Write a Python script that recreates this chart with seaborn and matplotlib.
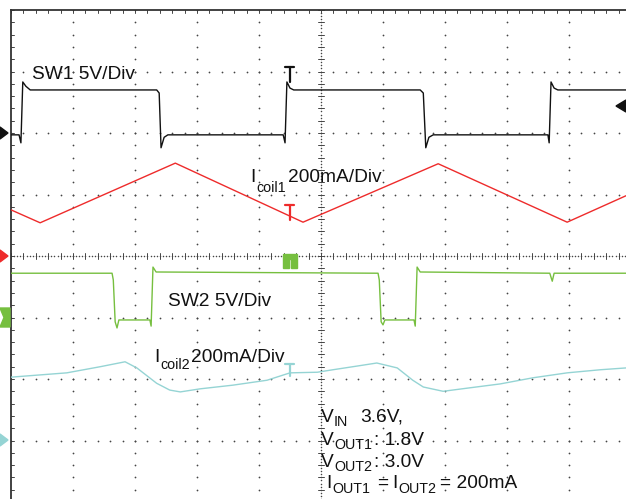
import numpy as np
import pandas as pd
import seaborn as sns
import matplotlib.pyplot as plt
from matplotlib.patches import Polygon

# scope traces, in screen divisions (10 x 8 grid)
sw1_x = [0, 0.13, 0.16, 0.19, 0.24, 0.31, 2.35, 2.39, 2.42, 2.47, 2.53, 4.39, 4.42, 4.45, 4.50, 4.56,
         6.60, 6.65, 6.69, 6.74, 6.81, 8.66, 8.68, 8.71, 8.76, 8.82, 10.0]
sw1_y = [5.97, 5.97, 5.84, 6.83, 6.76, 6.70, 6.70, 6.65, 5.76, 5.93, 5.97, 5.97, 5.84, 6.83, 6.73, 6.70,
         6.70, 6.65, 5.76, 5.93, 5.97, 5.97, 5.84, 6.83, 6.73, 6.70, 6.70]

icoil1_x = [0, 0.47, 2.65, 4.71, 6.89, 8.97, 9.92]
icoil1_y = [4.75, 4.54, 5.51, 4.55, 5.50, 4.55, 4.98]

sw2_x = [0, 1.63, 1.65, 1.68, 1.71, 1.74, 2.24, 2.26, 2.29, 2.34, 5.92, 5.94, 5.97, 6.00, 6.03,
         6.50, 6.52, 6.55, 6.60, 8.69, 8.73, 8.76, 10.0]
sw2_y = [3.72, 3.72, 3.61, 2.93, 2.83, 2.96, 2.96, 2.86, 3.82, 3.74, 3.72, 3.61, 2.93, 2.88, 2.96,
         2.96, 2.86, 3.82, 3.74, 3.72, 3.59, 3.72, 3.72]

icoil2_x = [0, 0.90, 1.44, 1.84, 2.03, 2.35, 2.56, 2.73, 3.05, 3.58, 4.13, 4.50, 4.94, 5.19, 5.58,
            5.90, 6.23, 6.48, 6.65, 6.97, 7.35, 7.89, 8.42, 8.97, 9.50, 9.92]
icoil2_y = [2.03, 2.10, 2.20, 2.28, 2.18, 1.93, 1.82, 1.79, 1.84, 1.90, 1.98, 2.10, 2.11, 2.15, 2.21,
            2.26, 2.18, 1.98, 1.87, 1.80, 1.85, 1.92, 2.02, 2.10, 2.15, 2.18]

c_sw1 = "#111111"
c_i1 = "#ee2b2b"
c_sw2 = "#76bf3f"
c_i2 = "#95d4d4"


def px(x):
    return (x - 11) / 62


def py(y):
    return (502 - y) / 61.5


sns.set_style("white")
plt.rcParams['font.family'] = ['Liberation Sans', 'DejaVu Sans']

fig = plt.figure(figsize=(6.26, 4.99), dpi=100)
ax = fig.add_axes([11 / 626, -3 / 499, 620 / 626, 492 / 499])
ax.set_xlim(0, 10)
ax.set_ylim(0, 8)
ax.set_xticks([])
ax.set_yticks([])
for s in ["right", "bottom"]:
    ax.spines[s].set_visible(False)
for s in ["left", "top"]:
    ax.spines[s].set_color("#333333")
    ax.spines[s].set_linewidth(1.3)

# dotted graticule
grid_col = "#444444"
ys = np.arange(0, 8.01, 0.2)
xs = np.arange(0, 10.01, 0.2)
for gx in range(1, 10):
    if gx != 5:
        ax.scatter(np.full(len(ys), gx), ys, s=1.6, color=grid_col, linewidths=0, zorder=1)
for gy in range(1, 8):
    if gy != 4:
        ax.scatter(xs, np.full(len(xs), gy), s=1.6, color=grid_col, linewidths=0, zorder=1)

# centre crosshair with ticks
fy = np.arange(0, 8.01, 0.05)
fx = np.arange(0, 10.01, 0.05)
ax.scatter(np.full(len(fy), 5), fy, s=1.2, color=grid_col, linewidths=0, zorder=1)
ax.scatter(fx, np.full(len(fx), 4), s=1.2, color=grid_col, linewidths=0, zorder=1)
for y in ys:
    ax.plot([4.95, 5.05], [y, y], color=grid_col, lw=0.7, zorder=1)
    ax.plot([0, 0.05], [y, y], color=grid_col, lw=0.7, zorder=1)
for x in xs:
    ax.plot([x, x], [3.95, 4.05], color=grid_col, lw=0.7, zorder=1)
    ax.plot([x, x], [8, 7.95], color=grid_col, lw=0.7, zorder=1)

# traces
traces = [(sw1_x, sw1_y, c_sw1), (icoil1_x, icoil1_y, c_i1),
          (sw2_x, sw2_y, c_sw2), (icoil2_x, icoil2_y, c_i2)]
for tx, ty, col in traces:
    df = pd.DataFrame({"t": tx, "v": ty})
    sns.lineplot(data=df, x="t", y="v", ax=ax, color=col, lw=1.0, sort=False,
                 estimator=None, zorder=3)
ax.set_xlabel("")
ax.set_ylabel("")

# cursor markers
for top, bot, col in [(67, 82, c_sw1), (205, 220, c_i1), (364, 376, c_i2)]:
    ax.plot([px(285), px(294)], [py(top), py(top)], color=col, lw=1.6, clip_on=False, zorder=4)
    ax.plot([px(289.5), px(289.5)], [py(top), py(bot)], color=col, lw=1.6, clip_on=False, zorder=4)
ax.add_patch(Polygon([(px(283), py(254)), (px(297), py(254)), (px(297), py(268)), (px(291), py(268)),
                      (px(291), py(259)), (px(289), py(259)), (px(289), py(268)), (px(283), py(268))],
                     closed=True, color=c_sw2, clip_on=False, zorder=4))

# ground / trigger markers at the edges
def tri(yc, col, left=False):
    if left:
        pts = [(px(626), py(yc - 6)), (px(626), py(yc + 6)), (px(616), py(yc))]
    else:
        pts = [(px(0), py(yc - 6)), (px(0), py(yc + 6)), (px(8), py(yc))]
    ax.add_patch(Polygon(pts, closed=True, color=col, clip_on=False, zorder=5))

tri(133, c_sw1)
tri(256, c_i1)
tri(440, c_i2)
tri(106, c_sw1, left=True)
ax.add_patch(Polygon([(px(0), py(308)), (px(10), py(308)), (px(10), py(327)), (px(0), py(327)),
                      (px(4), py(317.5))], closed=True, color=c_sw2, clip_on=False, zorder=5))

# labels
big = 13.8
small = 10.3
labels = [
    (32, 79, "SW1 5V/Div", big),
    (250, 182, "I", big), (256, 192, "coil1", small), (288, 182, "200mA/Div", big),
    (168, 306, "SW2 5V/Div", big),
    (154, 362, "I", big), (160, 369, "coil2", small), (191, 362, "200mA/Div", big),
    (321, 422, "V", big), (334, 426, "IN", small), (360, 422, "3.6V,", big),
    (321, 445, "V", big), (334, 449, "OUT1", small), (374, 445, ": 1.8V", big),
    (321, 467, "V", big), (334, 471, "OUT2", small), (374, 467, ": 3.0V", big),
    (326, 488, "I", big), (332, 493, "OUT1", small), (377, 488, "=", big),
    (392, 488, "I", big), (398, 493, "OUT2", small), (440, 488, "= 200mA", big),
]
for lx, ly, txt, fs in labels:
    ax.text(px(lx), py(ly), txt, fontsize=fs, color="#111111", ha="left", va="baseline", zorder=6)

fig.savefig("out.png", dpi=100)
